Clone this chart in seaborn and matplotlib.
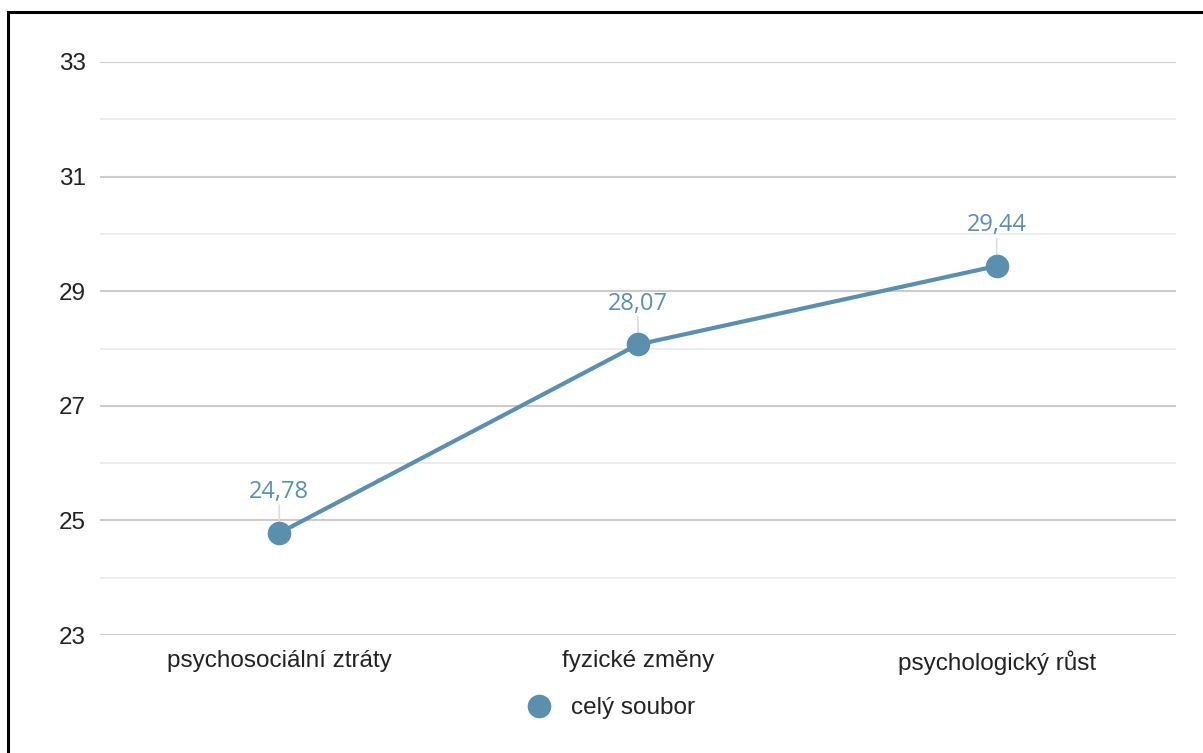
import matplotlib
matplotlib.use("Agg")
import matplotlib.pyplot as plt
import seaborn as sns
import pandas as pd
from matplotlib.patches import Rectangle
from matplotlib.lines import Line2D

categories = ["psychosociální ztráty", "fyzické změny", "psychologický růst"]
values = [24.78, 28.07, 29.44]
value_labels = ["24,78", "28,07", "29,44"]
series_name = "celý soubor"
y_ticks = [23, 25, 27, 29, 31, 33]
y_minor = [24, 26, 28, 30, 32]

color = "#5A90AE"

sns.set_theme(style="white")
plt.rcParams["font.family"] = ["Liberation Sans", "DejaVu Sans"]

fig = plt.figure(figsize=(12.03, 7.53), dpi=100)
ax = fig.add_axes([100 / 1203, 118 / 753, 1076 / 1203, 573 / 753])

df = pd.DataFrame({"kategorie": range(len(categories)), "hodnota": values})
sns.lineplot(data=df, x="kategorie", y="hodnota", ax=ax, color=color,
             linewidth=3, marker="o", markersize=17, markeredgewidth=0,
             sort=False, zorder=5)

ax.set_xlim(-0.5, len(categories) - 0.5)
ax.set_ylim(23, 33)
ax.set_yticks(y_ticks)
ax.set_yticks(y_minor, minor=True)
ax.set_yticklabels([str(t) for t in y_ticks])
ax.set_xticks(range(len(categories)))
ax.set_xticklabels(categories)

for t in y_ticks:
    ax.axhline(t, color="#cccccc", linewidth=1.5, zorder=1)
for t in y_minor:
    ax.axhline(t, color="#ebebeb", linewidth=1.3, zorder=1)

for s in ax.spines.values():
    s.set_visible(False)
ax.tick_params(axis="both", which="both", length=0, labelsize=17.5, colors="#222222")
ax.tick_params(axis="y", pad=10)
ax.tick_params(axis="x", pad=11)
ax.set_xlabel("")
ax.set_ylabel("")

# value labels with thin leader lines
for i, (v, lab) in enumerate(zip(values, value_labels)):
    ax.annotate(lab, xy=(i, v), xytext=(0, 25), textcoords="offset points",
                ha="center", va="baseline", fontsize=17, color=color,
                family=["Open Sans", "DejaVu Sans"], zorder=6)
    ax.annotate("", xy=(i, v), xytext=(0, 20), textcoords="offset points",
                arrowprops=dict(arrowstyle="-", color="#dddddd", lw=1.2,
                                shrinkA=0, shrinkB=0), zorder=2)

handle = Line2D([], [], color=color, marker="o", linestyle="none",
                markersize=17, markeredgewidth=0)
fig.legend([handle], [series_name], loc="center", bbox_to_anchor=(0.503, 1 - 708 / 753),
           frameon=False, fontsize=17.5, handletextpad=0.3, labelcolor="#222222")

# outer frame
fig.patches.append(Rectangle((8 / 1203, -0.1), 1.2, (753 - 12) / 753 + 0.1,
                             transform=fig.transFigure, fill=False,
                             edgecolor="black", linewidth=2.2, zorder=10))

fig.savefig("out.png", dpi=100)
